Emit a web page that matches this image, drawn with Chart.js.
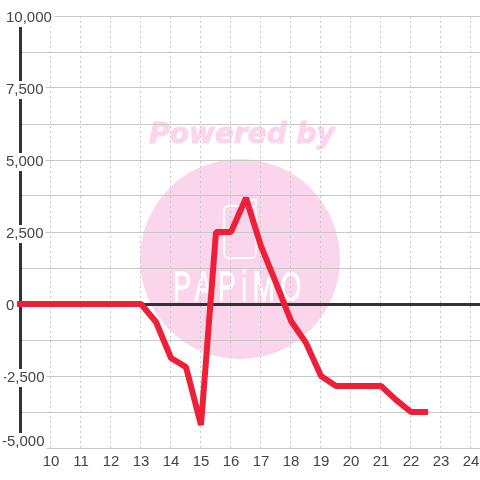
<!DOCTYPE html>
<html>
<head>
<meta charset="utf-8">
<script src="https://cdn.jsdelivr.net/npm/chart.js@4"></script>
<style>
    html, body { margin: 0; padding: 0; background: #fff; }
    #box { width: 480px; height: 480px; }
</style>
</head>
<body>
<div id="box"><canvas id="chart"></canvas></div>
<script>
const hours = [8.5, 9, 9.5, 10, 10.5, 11, 11.5, 12, 12.5, 13, 13.5, 14, 14.5, 15, 15.5, 16, 16.5, 17, 17.5, 18, 18.5, 19, 19.5, 20, 20.5, 21, 21.5, 22, 22.57]
const values = [0, 0, 0, 0, 0, 0, 0, 0, 0, 0, -625, -1875, -2190, -4200, 2500, 2500, 3680, 2010, 730, -590, -1350, -2500, -2850, -2850, -2850, -2850, -3330, -3750, -3750]
const xTicks = [10, 11, 12, 13, 14, 15, 16, 17, 18, 19, 20, 21, 22, 23, 24]
const yTicks = [10000, 8750, 7500, 6250, 5000, 3750, 2500, 1250, 0, -1250, -2500, -3750, -5000]
const yLabelled = [10000, 7500, 5000, 2500, 0, -2500, -5000]

const textColor = '#444444'
const gridColor = '#c8c8c8'
const axisColor = '#333333'
const font = { family: '"Liberation Sans"', size: 15 }

// logo behind the grid
const watermark = {
    id: 'watermark',
    beforeDraw(chart) {
        const ctx = chart.ctx
        ctx.save()
        ctx.fillStyle = '#fbd5ec'
        ctx.beginPath()
        ctx.arc(240, 259, 100, 0, Math.PI * 2)
        ctx.fill()
        ctx.font = 'italic bold 28px "DejaVu Sans"'
        ctx.textAlign = 'center'
        ctx.textBaseline = 'middle'
        ctx.strokeStyle = '#fbd5ec'
        ctx.lineWidth = 1
        ctx.fillText('Powered by', 242, 136)
        ctx.strokeText('Powered by', 242, 136)
        ctx.strokeStyle = '#ffffff'
        ctx.lineWidth = 2
        ctx.beginPath()
        ctx.roundRect(224, 206, 32, 52, 5)
        ctx.moveTo(247, 206)
        ctx.lineTo(247, 200)
        ctx.lineTo(256, 200)
        ctx.lineTo(256, 206)
        ctx.stroke()
        ctx.fillStyle = '#ffffff'
        ctx.strokeStyle = '#ffffff'
        ctx.lineWidth = 0.8
        ctx.translate(240, 289)
        ctx.scale(0.62, 1)
        ctx.letterSpacing = '9px'
        ctx.font = '43px "Liberation Sans"'
        ctx.fillText('PAPiMO', 0, 0)
        ctx.strokeText('PAPiMO', 0, 0)
        ctx.restore()
    },
}

// extra left axes that only carry labels, each with its own nudge
function labelAxis(padding, offset, show) {
    return {
        type: 'linear',
        position: 'left',
        min: -5000,
        max: 10000,
        afterBuildTicks: (scale) => {
            scale.ticks = yTicks.map((v) => ({ value: v }))
        },
        afterFit: (scale) => {
            scale.width = 0
        },
        border: { display: false },
        grid: { display: false, drawTicks: false },
        ticks: {
            mirror: true,
            crossAlign: 'near',
            padding: padding,
            labelOffset: offset,
            color: textColor,
            font: font,
            autoSkip: false,
            showLabelBackdrop: true,
            backdropColor: '#ffffff',
            backdropPadding: { left: 2, right: 2, top: 0, bottom: 0 },
            callback: (v) =>
                yLabelled.includes(v) && show(v) ? v.toLocaleString('en-US') : '',
        },
    }
}

new Chart('chart', {
    type: 'line',
    plugins: [watermark],
    data: {
        datasets: [
            {
                data: hours.map((h, i) => ({ x: h, y: values[i] })),
                yAxisID: 'y',
                borderColor: '#ee2038',
                borderWidth: 6,
                borderJoinStyle: 'bevel',
                borderCapStyle: 'butt',
                pointRadius: 0,
                tension: 0,
                clip: { left: 3, top: 0, right: 0, bottom: 0 },
            },
        ],
    },
    options: {
        responsive: true,
        maintainAspectRatio: false,
        animation: false,
        layout: {
            padding: { left: 20, top: 16, right: 0, bottom: 0 },
        },
        plugins: {
            legend: { display: false },
            tooltip: { enabled: false },
        },
        scales: {
            x: {
                type: 'linear',
                min: 8.9667,
                max: 24.3,
                afterBuildTicks: (scale) => {
                    scale.ticks = xTicks.map((v) => ({ value: v }))
                },
                afterFit: (scale) => {
                    scale.height = 32
                    scale.paddingLeft = 0
                    scale.paddingRight = 0
                },
                border: { display: false, dash: [2, 3] },
                grid: {
                    color: gridColor,
                    lineWidth: 1,
                    drawTicks: false,
                },
                ticks: {
                    color: textColor,
                    font: font,
                    padding: 5,
                    maxRotation: 0,
                    autoSkip: false,
                    callback: (v) => String(v),
                },
            },
            y: {
                ...labelAxis(-14, 2, (v) => v >= 0),
                border: { display: true, color: axisColor, width: 3 },
                grid: {
                    drawTicks: false,
                    color: (c) => (c.tick && c.tick.value === 0 ? axisColor : gridColor),
                    lineWidth: (c) => (c.tick && c.tick.value === 0 ? 3 : 1),
                },
            },
            yNegative: labelAxis(-18, 2, (v) => v < 0 && v > -5000),
            yBottom: labelAxis(-18, -6, (v) => v === -5000),
        },
    },
})
</script>
</body>
</html>
